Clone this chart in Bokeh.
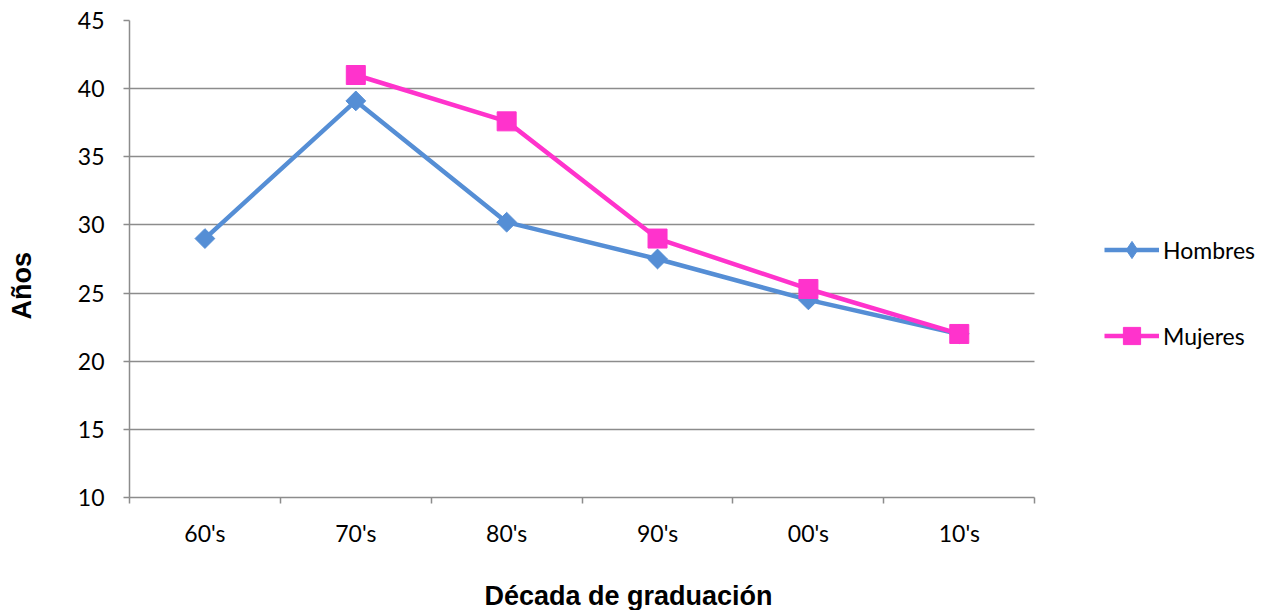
from bokeh.plotting import figure
from bokeh.models import Range1d, FixedTicker, Legend, LegendItem, Title
from bokeh.embed import file_html
from bokeh.resources import INLINE

# Data: mean age by decade of graduation
decades = ["60's", "70's", "80's", "90's", "00's", "10's"]
hombres = [29.0, 39.1, 30.2, 27.5, 24.5, 22.0]
mujeres_decades = ["70's", "80's", "90's", "00's", "10's"]
mujeres = [41.0, 37.6, 29.0, 25.3, 22.0]
y_ticks = [10, 15, 20, 25, 30, 35, 40, 45]

BLUE = "#558ED5"
PINK = "#FF33CC"
GRID = "#8C8C8C"
TICK_FONT = "Lato"
TITLE_FONT = "Liberation Sans"

W, H = 1273, 610
LEFT, PLOT_RIGHT, TOP, BOTTOM = 128, 1034, 20, 498   # pixel box of the plotting area
FRAME_W = W - LEFT                    # frame runs to the right edge, legend lives there

# categories sit in the middle of unit-wide slots; ticks mark the slot edges
n = len(decades)
pos = {d: i + 0.5 for i, d in enumerate(decades)}
x_h = [pos[d] for d in decades]
x_m = [pos[d] for d in mujeres_decades]
px_per_x = (PLOT_RIGHT - LEFT) / n
x_end = FRAME_W / px_per_x

p = figure(width=W, height=H, output_backend="svg", toolbar_location=None,
           x_range=Range1d(0, x_end), y_range=Range1d(y_ticks[0], y_ticks[-1]),
           min_border_left=LEFT, min_border_right=0, min_border_top=TOP,
           min_border_bottom=H - BOTTOM)
p.outline_line_color = None
p.background_fill_color = "white"
p.border_fill_color = "white"

# x axis: labels at slot centres, tick marks at slot boundaries
xa = p.xaxis[0]
xa.bounds = (0, n)
xa.ticker = FixedTicker(ticks=x_h, minor_ticks=list(range(n + 1)))
xa.major_label_overrides = {x: d for x, d in zip(x_h, decades)}
xa.major_tick_in = 0
xa.major_tick_out = 0
xa.minor_tick_in = 0
xa.minor_tick_out = 6
xa.minor_tick_line_color = GRID
xa.minor_tick_line_width = 1.5
xa.axis_line_color = GRID
xa.axis_line_width = 1.5
xa.major_label_standoff = 15
xa.major_label_text_font = TICK_FONT
xa.major_label_text_font_size = "23px"
xa.major_label_text_color = "#000000"

ya = p.yaxis[0]
ya.ticker = FixedTicker(ticks=y_ticks)
ya.major_tick_in = 0
ya.major_tick_out = 6
ya.major_tick_line_color = GRID
ya.major_tick_line_width = 1.5
ya.minor_tick_line_color = None
ya.axis_line_color = GRID
ya.axis_line_width = 1.5
ya.major_label_standoff = 19
ya.major_label_text_font = TICK_FONT
ya.major_label_text_font_size = "23px"
ya.major_label_text_color = "#000000"

p.xgrid.grid_line_color = None
p.ygrid.grid_line_color = GRID
p.ygrid.grid_line_width = 1.5
p.ygrid.ticker = FixedTicker(ticks=y_ticks)
p.ygrid.cross_bounds = (0, n)

# axis titles; the blank line pushes each title away from its axis
title_style = dict(text_font=TITLE_FONT, text_font_style="bold",
                   text_font_size="27px", text_color="#000000")
p.add_layout(Title(text=" \nDécada de graduación", align="left", offset=355,
                   vertical_align="bottom", standoff=0, text_line_height=0.95,
                   **title_style), "below")
p.add_layout(Title(text="Años\n ", align="left", offset=178,
                   vertical_align="top", standoff=12, text_line_height=1.0,
                   **title_style), "left")

lh = p.line(x_h, hombres, line_color=BLUE, line_width=4.5)
# plain diamonds (legend swatch) sit beneath the wider rotated-square markers
kh = p.scatter(x_h, hombres, marker="diamond", size=17, fill_color=BLUE,
               line_color=BLUE)
sh = p.scatter(x_h, hombres, marker="square", angle=0.785398, size=14,
               fill_color=BLUE, line_color=BLUE)
lm = p.line(x_m, mujeres, line_color=PINK, line_width=4.5)
sm = p.scatter(x_m, mujeres, marker="square", size=19, fill_color=PINK,
               line_color=PINK)

legend = Legend(items=[LegendItem(label="Hombres", renderers=[lh, kh]),
                       LegendItem(label="Mujeres", renderers=[lm, sm])],
                location=(PLOT_RIGHT - LEFT + 69, 140), orientation="vertical",
                glyph_width=55, glyph_height=43, label_height=43,
                label_standoff=4, spacing=43, padding=0, margin=0,
                border_line_color=None, background_fill_alpha=0,
                label_text_font=TICK_FONT, label_text_font_size="23px",
                label_text_color="#000000")
p.add_layout(legend, "center")

open("out.html", "w").write(file_html(p, INLINE))
